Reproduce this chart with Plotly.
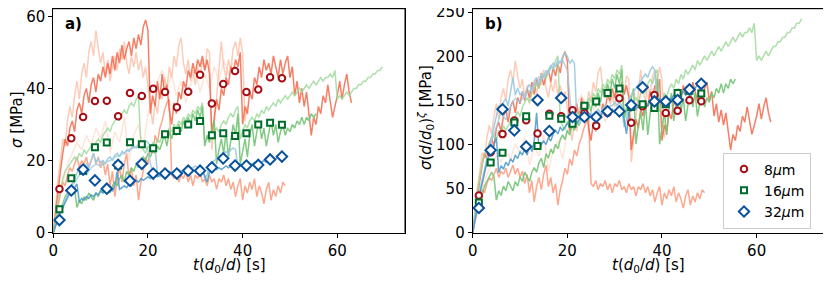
import numpy as np
import plotly.graph_objects as go

# ---------------- data (panel a values, sigma in MPa) ----------------
DT = 0.5  # sampling step [s] of the traces below
DT_COARSE = 1.0

# 8 um traces
R_A = [0,6,12,17,22,26,24,29,31,28, 34,36,33,38,40,36,41,43,39,44,
       42,46,43,47,44,49,45,50,47,52, 48,51,53,49,54,51,55,52,57,59,
       56, 33,38,35,42,37,44,39,41,34,30, 36,33,39,37,42,40,45,43,47,44,
       48,46,49,45,48,44,27,32,37,34, 40,38,43,41,46,44,48,46,50,30,
       35,33,39,37,43,41,46,43,48,45, 47,44,49,46,43,48,44,47,49,43,
       46,38,42,36,40,35,39,33,27,32, 30,35,33,38,36,41,37,32,35,38,
       42,37,41,44,39,36]
R_B = [0,4,8,11,14,13,16,18,17,19, 21,18,20,19,21,18,20,22,19,21,
       18,20,16,19,13,17,10,15,18,14, 19,22,15,18,13,16,9,14,17,21,
       19,24,22,27,25,29,31,34,36,37, 16,15,17,14,16,15,17,14,16,13,
       16,15,17,14,15,13,16,14,15,12, 15,14,16,13,15,12,14,10,13,15,
       9,13,11,14,12,15,10,13,11,8, 12,14,9,12,10,13,11,14,13]
R_C = [0,8,15,20,26,24,31,35,32,38, 42,37,44,47,43,50,53,49,56,51,
       47,50,44,48,42,46,49,45,51,48, 53,47,44,49,46,50,45,48,43,46,
       40,35,30,36,33,39,37,43,40,46, 43,49,46,52,54,47,44,48,42,45,
       41,46,43,48,45,51,50,23,30,38, 45,53,46,43,48,45,51,53,49,54,
       50,31,35]
R_D = [0,8,14,19,22,25,23,27,24,29, 26,31,22,28,25,32,20,27,30,24,
       33,38,42,45,40,44,38,42,36,41, 45,39,44,40,46,42,48,44,47]

# 16 um traces
G_A = [0,3,5,7,8,10,11,12,13,12, 7,9,8,10,9,11,10,9,11,10,
       12,11,13,12,11,13,14,13,15,16, 14,17,16,18,17,19,18,20,21,20,
       22,21,23,22,24,23,25,27,24,28, 26,29,27,30,28,31,29,32,30,33,
       31,34,32,35,24,27,25,29,31,19, 23,26,22,28,21,25,30,27,33,19,
       23,26,21,27,30,24,28,31,26,29, 24,28,31,27,30,25,28,30,27,29,
       28,30,29,31,30,32,30,32,31,33, 32,33]
G_B = [0,5,9,12,15,17,18,19,20,21, 20,22,21,23,22,23,24,23,25,26,
       25,27,28,29,28,30,31,32,31,33, 34,33,35,36,35,37,38,24,23,22,
       24,23,25,24,26,25,27,28,27,29, 28,30,29,31,30,32,31,33,32,34,
       33,35,34,36,25,26,27,26,28,29, 28,30,31,30,32,33,32,34,35,26,
       28,30,29,31,32,31,33,32,34,33, 35,34,35,36,35,37,36,37,38,37,
       38,39,38,39,40,39,40,41,40,41, 42,41,42,43,42,43,43,44,43,45,
       37,38,37,38,39,38,39,40,40,41, 41,42,42,43,43,44,44,45,45,46]

# 32 um traces
B_A = [0,2,4,5.5,7,8.5,10,11,11.5,12.5, 13.5,8.5,9.5,9,10,9.5,10.5,10,11,10.5,
       11.5,11,12,11,12.5,11.5,13,17,12,12.5, 13,12.5,13.5,13,14,14.5,14,15,14.5,15,
       15.5,15,15.5,16,15.5,16,16.5,16,16.5,17, 16.5,16,16.5,17,16.5,17,17.5,17,17,17.5,
       17,17.5,17,17.5,16,14,17,17.5,18,17.5, 18,17.5,18,18.5,18,18.5,18,18.5,18.5,19,
       18.5,19,18.5,19,19,19.5,19,19.5,19.5,20, 19.5,20,20.5,20,20.5,21,20.5,21]
B_B = [0,2.5,4.5,6,7.5,9,10.5,12,13.5,15, 16.5,18,17.5,18.5,19,18,20,22,19.5,20.5,
       19.5,20,19,20.5,21,20,21.5,22,21,22.5, 22,23,22.5,23.5,24,23.5,24.5,24,25,25.5,
       25,24,24.5,24,16,15.5,16,16.5,16,16.5, 17,16.5,17,17.5,17,17.5,18,17.5,18,18,
       18.5,18,18.5,18,15,16,19,19.5,20,20.5, 21,21.5,22,22.5,22,23,23.5,23,18]
B_C = [0,4,7,10,13,15,17,16,18,19,18.5,19.5,20,21,21.5,22,23,23.5,24,24.5,23,16]

# averaged markers
T_MARK = [1.3,3.8,6.3,8.8,11.3,13.7,16.2,18.7,21.1,23.6,26.1,28.5,31.0,33.5,35.9,38.4,40.8,43.3,45.8,48.3]
S8 = [12.1,26.2,32.1,36.5,36.6,32.3,38.7,37.9,39.9,39.0,34.8,39.1,43.8,35.8,41.2,44.8,39.0,39.7,43.1,42.8]
S16 = [6.5,15.1,17.2,23.7,25.0,18.6,25.1,24.5,23.4,27.3,28.2,30.0,31.0,27.0,27.6,26.8,27.6,30.0,30.5,29.9]
S32 = [3.5,11.7,17.5,14.5,12.2,18.8,14.4,19.1,16.4,16.4,16.4,17.2,17.2,18.1,20.6,18.6,18.6,18.8,20.3,21.1]

D_UM = [8, 16, 32]
D0_UM = 1.0
ZETA = 0.6
LABELS = ["8<i>μ</i>m", "16<i>μ</i>m", "32<i>μ</i>m"]

# ---------------- figure ----------------
# The page body has an 8px default margin; size the figure so that it
# exactly fills the 831x282 window.
PAGE_W, PAGE_H = 831, 282
OFF = 8
W, H = PAGE_W - OFF, PAGE_H - OFF


def px(xp):
    return min(1.0, max(0.0, (xp - OFF) / W))


def py(yp):
    return min(1.0, max(0.0, (PAGE_H - yp) / H))


fig = go.Figure()

lines = [
    (R_D, DT_COARSE, "rgba(254,224,210,0.85)", 8),
    (R_C, DT, "rgba(252,187,161,0.75)", 8),
    (R_B, DT, "rgba(252,146,114,0.8)", 8),
    (R_A, DT, "rgba(242,95,64,0.8)", 8),
    (G_B, DT, "rgba(161,217,155,0.85)", 16),
    (G_A, DT, "rgba(116,196,118,0.9)", 16),
    (B_C, DT_COARSE, "rgba(158,202,225,0.8)", 32),
    (B_B, DT, "rgba(158,202,225,0.95)", 32),
    (B_A, DT, "rgba(74,152,201,0.85)", 32),
]

for panel, (xa, ya) in enumerate([("x", "y"), ("x2", "y2")]):
    for vals, dt, col, d in lines:
        t = np.arange(len(vals)) * dt
        f = (d / D0_UM) ** ZETA if panel == 1 else 1.0
        fig.add_trace(go.Scatter(x=t, y=np.array(vals) * f, mode="lines",
                                 line=dict(color=col, width=1.5),
                                 xaxis=xa, yaxis=ya, showlegend=False,
                                 hoverinfo="skip"))

marks = [
    (S8, "circle", "#a50f15", 6.5),
    (S16, "square", "#006d2c", 6),
    (S32, "diamond", "#08519c", 8),
]
for panel, (xa, ya) in enumerate([("x", "y"), ("x2", "y2")]):
    for (vals, sym, col, sz), d, lab in zip(marks, D_UM, LABELS):
        f = (d / D0_UM) ** ZETA if panel == 1 else 1.0
        fig.add_trace(go.Scatter(
            x=T_MARK, y=np.array(vals) * f, mode="markers",
            marker=dict(symbol=sym, size=sz,
                        color="white", line=dict(color=col, width=2)),
            xaxis=xa, yaxis=ya, name=lab, showlegend=(panel == 1)))

axis_common = dict(showline=True, linecolor="black", linewidth=1, mirror=True,
                   ticks="outside", ticklen=4, tickwidth=1, tickcolor="black",
                   showgrid=False, zeroline=False, automargin=False,
                   ticklabeloverflow="allow",
                   tickfont=dict(size=15, color="black"))

PLOT_TOP = 8.7
xa_dom = [px(53.3), px(405)]
xb_dom = [px(472.7), px(824.3)]
y_dom = [py(232.7), py(PLOT_TOP)]

fig.update_layout(
    width=W, height=H,
    margin=dict(l=0, r=0, t=0, b=0, pad=0, autoexpand=False),
    paper_bgcolor="white", plot_bgcolor="white",
    font=dict(family="DejaVu Sans", size=14, color="black"),
    xaxis=dict(domain=xa_dom, range=[0, 74.3], tickvals=[0, 20, 40, 60], anchor="y", **axis_common),
    yaxis=dict(domain=y_dom, range=[0, 62.1], tickvals=[0, 20, 40, 60], anchor="x", **axis_common),
    xaxis2=dict(domain=xb_dom, range=[0, 74.3], tickvals=[0, 20, 40, 60], anchor="y2", **axis_common),
    yaxis2=dict(domain=y_dom, range=[0, 254], tickvals=[0, 50, 100, 150, 200, 250], anchor="x2", **axis_common),
    legend=dict(x=px(767), xanchor="center", y=py(190.5), yanchor="middle",
                bgcolor="rgba(255,255,255,0.8)", bordercolor="#cccccc", borderwidth=1,
                font=dict(size=14), tracegroupgap=0),
    showlegend=True,
)

# top and right spines of each panel, drawn in paper coordinates (not clipped)
for dom in (xa_dom, xb_dom):
    fig.add_shape(type="line", xref="paper", yref="paper",
                  x0=dom[0], x1=dom[1], y0=y_dom[1], y1=y_dom[1],
                  line=dict(color="black", width=1), layer="above")
    fig.add_shape(type="line", xref="paper", yref="paper",
                  x0=dom[1], x1=dom[1], y0=y_dom[0], y1=y_dom[1],
                  line=dict(color="black", width=1), layer="above")

xt = "<i>t</i>(<i>d</i><sub>0</sub>/<i>d</i>) [s]"
ann = [
    dict(text=xt, x=px(229.2), y=py(265), xanchor="center", yanchor="middle"),
    dict(text=xt, x=px(648.5), y=py(265), xanchor="center", yanchor="middle"),
    dict(text="<i>σ</i> [MPa]", x=px(17), y=py(120), xanchor="center", yanchor="middle", textangle=-90),
    dict(text="<i>σ</i>(<i>d</i>/<i>d</i><sub>0</sub>)<sup><i>ζ</i></sup> [MPa]", x=px(425), y=py(117),
         xanchor="center", yanchor="middle", textangle=-90),
    dict(text="<b>a)</b>", x=px(63), y=py(24), xanchor="left", yanchor="middle"),
    dict(text="<b>b)</b>", x=px(482.7), y=py(24), xanchor="left", yanchor="middle"),
]
for a in ann:
    a.update(xref="paper", yref="paper", showarrow=False, font=dict(size=15, color="black"))
fig.update_layout(annotations=ann)

fig.write_html("out.html")
